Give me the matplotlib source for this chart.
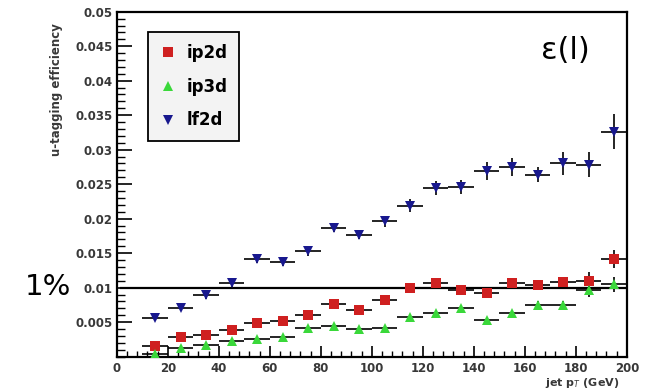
import matplotlib
matplotlib.use("Agg")
import matplotlib.pyplot as plt
from matplotlib.ticker import MultipleLocator, FixedLocator
from matplotlib.lines import Line2D

# jet pT bins (GeV), 10 GeV wide
pt = [15, 25, 35, 45, 55, 65, 75, 85, 95, 105, 115, 125, 135, 145, 155, 165, 175, 185, 195]
half_bin = 5

ip2d = [0.0015, 0.0029, 0.0032, 0.0038, 0.0049, 0.0052, 0.0060, 0.0076, 0.0068, 0.0082,
        0.0100, 0.0106, 0.0096, 0.0092, 0.0107, 0.0104, 0.0108, 0.0110, 0.0141]
ip2d_err = [0.0003, 0.0003, 0.0003, 0.0003, 0.0003, 0.0003, 0.0004, 0.0004, 0.0004, 0.0005,
            0.0005, 0.0006, 0.0006, 0.0006, 0.0007, 0.0007, 0.0008, 0.0012, 0.0013]

ip3d = [0.0004, 0.0013, 0.0017, 0.0023, 0.0025, 0.0029, 0.0041, 0.0045, 0.0040, 0.0042,
        0.0058, 0.0063, 0.0070, 0.0053, 0.0063, 0.0075, 0.0075, 0.0096, 0.0105]
ip3d_err = [0.0002, 0.0002, 0.0003, 0.0003, 0.0003, 0.0003, 0.0003, 0.0003, 0.0003, 0.0004,
            0.0004, 0.0004, 0.0005, 0.0005, 0.0005, 0.0006, 0.0006, 0.0009, 0.0011]

lf2d = [0.0056, 0.0071, 0.0089, 0.0107, 0.0141, 0.0137, 0.0153, 0.0187, 0.0177, 0.0196,
        0.0219, 0.0244, 0.0246, 0.0269, 0.0275, 0.0264, 0.0280, 0.0278, 0.0326]
lf2d_err = [0.0005, 0.0005, 0.0005, 0.0006, 0.0006, 0.0006, 0.0007, 0.0007, 0.0007, 0.0008,
            0.0009, 0.0010, 0.0010, 0.0013, 0.0013, 0.0011, 0.0017, 0.0018, 0.0025]

col_ip2d = '#cf2020'
col_ip3d = '#3ad83a'
col_lf2d = '#18188e'
txt_grey = '#383838'

fig = plt.figure(figsize=(6.53, 3.91), dpi=100)
ax = fig.add_axes([0.179, 0.088, 0.781, 0.882])

series = [
    (ip2d, ip2d_err, col_ip2d, 's', 'ip2d'),
    (ip3d, ip3d_err, col_ip3d, '^', 'ip3d'),
    (lf2d, lf2d_err, col_lf2d, 'v', 'lf2d'),
]
for vals, errs, col, mk, lab in series:
    ax.errorbar(pt, vals, xerr=half_bin, yerr=errs, fmt=mk, color=col,
                ecolor='black', elinewidth=1.2, capsize=0, markersize=7,
                markeredgewidth=0, zorder=3)

# 1% reference line
ax.axhline(0.01, xmin=0.009, xmax=1, color='black', lw=1.6, zorder=2)

ax.set_xlim(0, 200)
ax.set_ylim(0, 0.05)

ax.xaxis.set_major_locator(MultipleLocator(20))
ax.xaxis.set_minor_locator(MultipleLocator(4))
ax.yaxis.set_major_locator(FixedLocator([0.005 * i for i in range(1, 11)]))
ax.yaxis.set_minor_locator(MultipleLocator(0.001))
ax.set_yticklabels(['0.005', '0.01', '0.015', '0.02', '0.025', '0.03',
                    '0.035', '0.04', '0.045', '0.05'])

ax.tick_params(axis='both', which='major', direction='in', length=11, width=1.2,
               labelsize=8.5, colors='black', labelcolor=txt_grey)
ax.tick_params(axis='both', which='minor', direction='in', length=6, width=1.0)
ax.tick_params(axis='x', which='major', length=8, pad=4)
ax.tick_params(axis='x', which='minor', length=4)
ax.tick_params(axis='y', pad=3)
for lbl in ax.get_xticklabels() + ax.get_yticklabels():
    lbl.set_fontweight('bold')

for sp in ax.spines.values():
    sp.set_linewidth(1.6)

ax.set_ylabel('u-tagging efficiency', fontsize=8.5, color=txt_grey, fontweight='bold')
ax.yaxis.set_label_coords(-0.105, 0.775)
ax.set_xlabel('jet p$_{T}$ (GeV)', fontsize=8, color=txt_grey, fontweight='bold')
ax.xaxis.set_label_coords(0.985, -0.077)
ax.xaxis.label.set_horizontalalignment('right')
ax.xaxis.label.set_verticalalignment('center')

handles = [Line2D([], [], ls='none', marker=mk, color=col, markersize=7,
                  markeredgewidth=0) for _, _, col, mk, _ in series]
labels = [s[4] for s in series]
leg = ax.legend(handles, labels, loc='upper left', bbox_to_anchor=(0.061, 0.941),
                borderaxespad=0, fancybox=False, frameon=True, edgecolor='black',
                facecolor='#f3f3f3', framealpha=1, prop={'weight': 'bold', 'size': 12},
                handlelength=1.0, handletextpad=0.6, labelspacing=0.95, borderpad=0.7)
leg.get_frame().set_linewidth(1.3)

fig.text(0.074, 0.267, '1%', fontsize=21, ha='center', va='center')
fig.text(0.866, 0.872, 'ε(l)', fontsize=22, ha='center', va='center')

fig.savefig('out.png', dpi=100)
